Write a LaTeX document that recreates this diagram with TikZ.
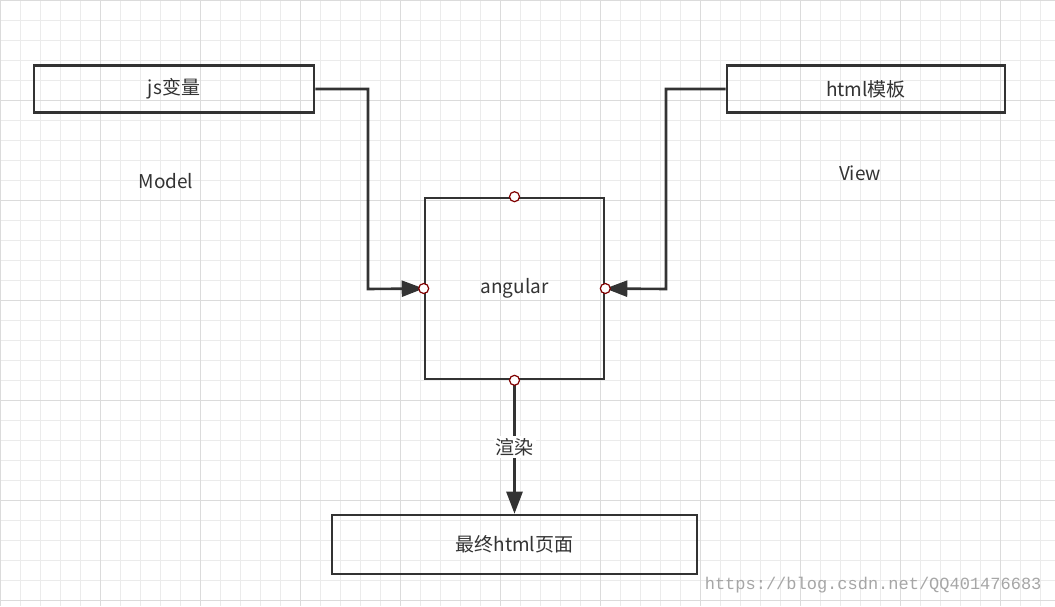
\documentclass[tikz,border=0pt]{standalone}
\usepackage{fontspec}
\setmainfont{Noto Sans CJK SC}
\setmonofont{Liberation Mono}
\usetikzlibrary{arrows.meta}
\begin{document}
\begin{tikzpicture}[x=1pt,y=-1pt,
    label text/.style={font=\fontsize{19}{22}\selectfont,text=black!80},
    box/.style={draw=black!80,line width=2.6pt,minimum height=47pt,label text},
    port/.style={circle,draw=red!50!black,fill=white,inner sep=0pt,minimum size=10pt,line width=1.2pt},
    link/.style={draw=black!80,line width=2.6pt,-{Triangle[length=22pt,width=16pt]}}]
  \fill[white] (0,0) rectangle (1055,606);
  \useasboundingbox (0,0) rectangle (1055,606);
  \foreach \x in {0,20,...,1040}
    \draw[black!8,line width=0.8pt] (\x,0) -- (\x,606);
  \foreach \y in {0,20,...,600}
    \draw[black!8,line width=0.8pt] (0,\y) -- (1055,\y);
  \foreach \x in {0,100,...,1000}
    \draw[black!14,line width=1pt] (\x,0) -- (\x,606);
  \foreach \y in {0,100,...,600}
    \draw[black!14,line width=1pt] (0,\y) -- (1055,\y);

  \node[box,minimum width=280pt] (js) at (174,89) {js变量};
  \node[box,minimum width=278pt] (html) at (866,89) {html模板};
  \node[box,minimum width=179pt,minimum height=181pt] (ng) at (514.5,288.5) {angular};
  \node[box,minimum width=365pt,minimum height=59pt] (page) at (514.5,544.5) {最终html页面};

  \node[label text] (model) at (166,181) {Model};
  \node[label text] (view) at (860,173) {View};

  \draw[link] (js.east) -| (368,289) -- (ng.west);
  \draw[link] (html.west) -| (666,289) -- (ng.east);
  \draw[link] (ng.south) -- node[fill=white,label text,inner sep=2pt,pos=0.5] {渲染} (page.north);

  \foreach \p in {north,south,east,west}
    \node[port] at (ng.\p) {};

  \node[font=\ttfamily\fontsize{17}{20}\selectfont,text=black!35,anchor=east] (mark) at (1045,585) {https://blog.csdn.net/QQ401476683};
\end{tikzpicture}
\end{document}
